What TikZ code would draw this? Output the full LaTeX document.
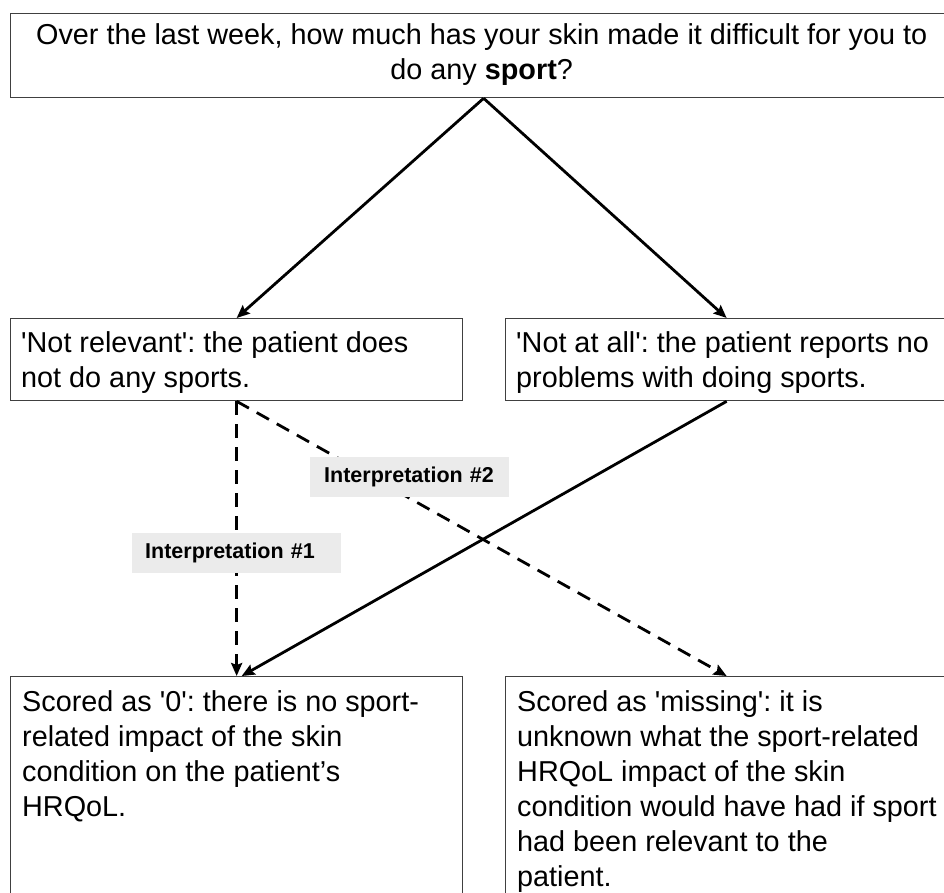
\documentclass[tikz,border=0pt]{standalone}
\usepackage{fontspec}
\setmainfont{Liberation Sans}[Ligatures=TeXOff]
\usetikzlibrary{arrows.meta,calc}
\frenchspacing
\begin{document}
\begin{tikzpicture}[x=1pt,y=-1pt,
 box/.style={draw=black!75, line width=1.3pt, rectangle, inner sep=0pt, anchor=north west},
 txt/.style={anchor=north west, inner sep=0pt, align=left, font=\fontsize{28.8}{35}\selectfont},
 arr/.style={line width=2.8pt, -{Stealth[length=13pt,width=11pt,inset=2pt]}},
 darr/.style={arr, dash pattern=on 14pt off 9pt},
 lab/.style={fill=black!8, inner ysep=0pt, inner xsep=13pt, anchor=north west, align=left, minimum height=40pt, font=\fontsize{21.5}{24}\bfseries\selectfont}
]
\useasboundingbox (0,0) rectangle (944,892);
\clip (0,0) rectangle (944,892);

\node[box, minimum width=946pt, minimum height=84pt] (q) at (10,13) {};
\node[box, minimum width=452pt, minimum height=82pt] (nl) at (10,318) {};
\node[box, minimum width=442pt, minimum height=82pt] (na) at (505,318) {};
\node[box, minimum width=452pt, minimum height=250pt] (s0) at (10,676) {};
\node[box, minimum width=442pt, minimum height=250pt] (sm) at (505,676) {};

\node[txt, align=center, anchor=center] (qt) at ($(q.center)+(-2,-1)$) {Over the last week, how much has your skin made it difficult for you to\\do any \textbf{sport}?};
\node[txt] (nlt) at ($(nl.north west)+(11,13)$) {'Not relevant': the patient does\\not do any sports.};
\node[txt] (nat) at ($(na.north west)+(11,13)$) {'Not at all': the patient reports no\\problems with doing sports.};
\node[txt] (s0t) at ($(s0.north west)+(12,14)$) {Scored as '0': there is no sport-\\related impact of the skin\\condition on the patient’s\\HRQoL.};
\node[txt] (smt) at ($(sm.north west)+(12,14)$) {Scored as 'missing': it is\\unknown what the sport-related\\HRQoL impact of the skin\\condition would have had if sport\\had been relevant to the\\patient.};

\draw[arr] (q.south) -- (nl.north);
\draw[arr] (q.south) -- (na.north);
\draw[darr] (nl.south) -- (s0.north);
\draw[darr] (nl.south) -- (sm.north);
\draw[arr] (na.south) -- ($(s0.north)+(5,0)$);

\node[lab, text width=183pt] (lab1) at (132,533) {Interpretation \#1};
\node[lab, text width=171pt, inner xsep=14pt] (lab2) at (310,457) {Interpretation \#2};
\end{tikzpicture}
\end{document}
